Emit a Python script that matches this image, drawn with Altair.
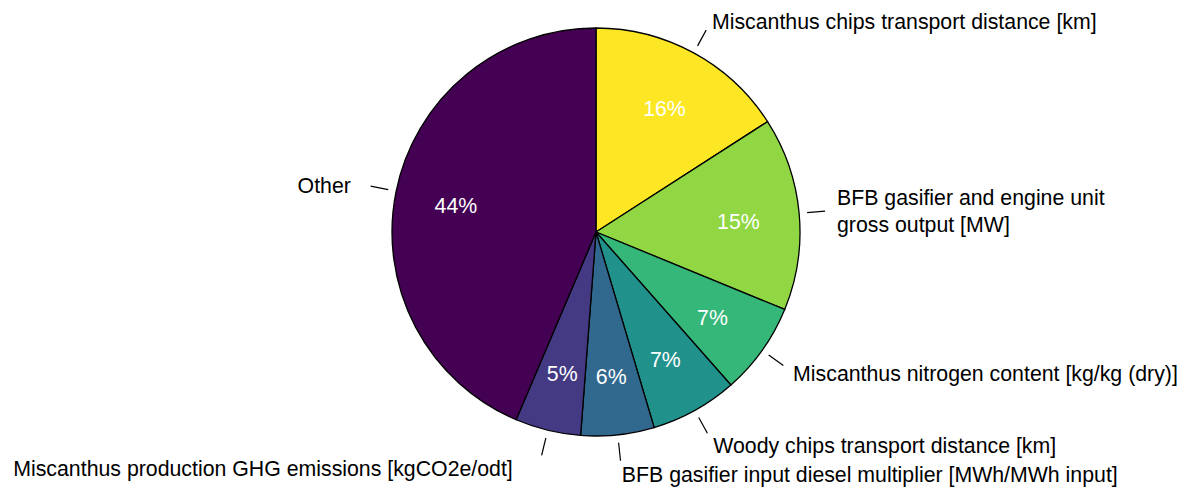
import math
import altair as alt
import pandas as pd

# ---- data ----
labels = [
    "Miscanthus chips transport distance [km]",
    "BFB gasifier and engine unit\ngross output [MW]",
    "Miscanthus nitrogen content [kg/kg (dry)]",
    "Woody chips transport distance [km]",
    "BFB gasifier input diesel multiplier [MWh/MWh input]",
    "Miscanthus production GHG emissions [kgCO2e/odt]",
    "Other",
]
shares = [15.9, 15.3, 7.3, 6.9, 5.8, 5.2, 43.6]
colors = ["#fde725", "#90d743", "#35b779", "#21918c", "#31688e", "#443983", "#440154"]

# ---- layout ----
W, H = 1171, 480
CX, CY = 588, 224
R = 204
R_PCT = 143
R_T1, R_T2, R_LAB = 212, 230, 242
LAB_DY = 3
FONT = 21.3
LINE_H = 27
# horizontal nudges for a few outer labels (layout only)
LAB_NUDGE_X = {
    "Other": -8,
    "Miscanthus production GHG emissions [kgCO2e/odt]": -26,
}

total = sum(shares)
rows = []
cum = 0.0
for i, (lab, v) in enumerate(zip(labels, shares)):
    mid = (cum + v / 2) / total * 2 * math.pi
    cum += v
    s, c = math.sin(mid), math.cos(mid)
    nlines = lab.count("\n") + 1
    rows.append({
        "idx": i,
        "label": lab,
        "value": v,
        "pct": f"{round(v / total * 100)}%",
        "x1": CX + R_T1 * s, "y1": CY - R_T1 * c,
        "x2": CX + R_T2 * s, "y2": CY - R_T2 * c,
        "lx": CX + R_LAB * s + LAB_NUDGE_X.get(lab, 0),
        "ly": CY - R_LAB * c + LAB_DY - (nlines - 1) * LINE_H / 2,
        "side": "right" if s >= 0 else "left",
    })
df = pd.DataFrame(rows)

base = alt.Chart(df)

pie = base.mark_arc(outerRadius=R, stroke="black", strokeWidth=1.3, x=CX, y=CY).encode(
    theta=alt.Theta("value:Q", stack=True),
    order=alt.Order("idx:Q"),
    color=alt.Color("label:N", scale=alt.Scale(domain=labels, range=colors), legend=None),
)

pct = base.mark_text(radius=R_PCT, x=CX, y=CY, dy=4, color="white", fontSize=FONT,
                     font="Liberation Sans").encode(
    theta=alt.Theta("value:Q", stack=True),
    order=alt.Order("idx:Q"),
    text="pct:N",
)

ticks = base.mark_rule(color="black", strokeWidth=1.2).encode(
    x=alt.X("x1:Q", scale=None, axis=None),
    y=alt.Y("y1:Q", scale=None, axis=None),
    x2="x2:Q",
    y2="y2:Q",
)

text_kw = dict(fontSize=FONT, font="Liberation Sans", color="black",
               baseline="middle", lineBreak="\n", lineHeight=LINE_H)
lab_right = base.transform_filter(alt.datum.side == "right").mark_text(align="left", **text_kw).encode(
    x=alt.X("lx:Q", scale=None, axis=None),
    y=alt.Y("ly:Q", scale=None, axis=None),
    text="label:N",
)
lab_left = base.transform_filter(alt.datum.side == "left").mark_text(align="right", **text_kw).encode(
    x=alt.X("lx:Q", scale=None, axis=None),
    y=alt.Y("ly:Q", scale=None, axis=None),
    text="label:N",
)

chart = alt.layer(pie, pct, ticks, lab_right, lab_left).properties(
    width=W, height=H,
    autosize=alt.AutoSizeParams(type="none"),
    padding=0,
).configure_view(stroke=None)

chart.save("out.html", embed_options={"renderer": "svg", "actions": False})
